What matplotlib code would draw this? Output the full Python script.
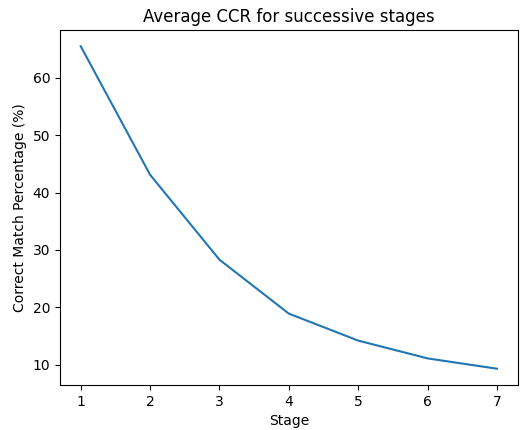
import matplotlib
matplotlib.use("Agg")
import matplotlib.pyplot as plt

stages = [1, 2, 3, 4, 5, 6, 7]
ccr = [65.5, 43.1, 28.3, 18.9, 14.2, 11.1, 9.3]

fig, ax = plt.subplots(figsize=(5.3, 4.3), dpi=100)
fig.subplots_adjust(left=0.113, right=0.977, top=0.930, bottom=0.105)

ax.plot(stages, ccr)
ax.set_title("Average CCR for successive stages")
ax.set_xlabel("Stage")
ax.set_ylabel("Correct Match Percentage (%)")

fig.savefig("out.png")
